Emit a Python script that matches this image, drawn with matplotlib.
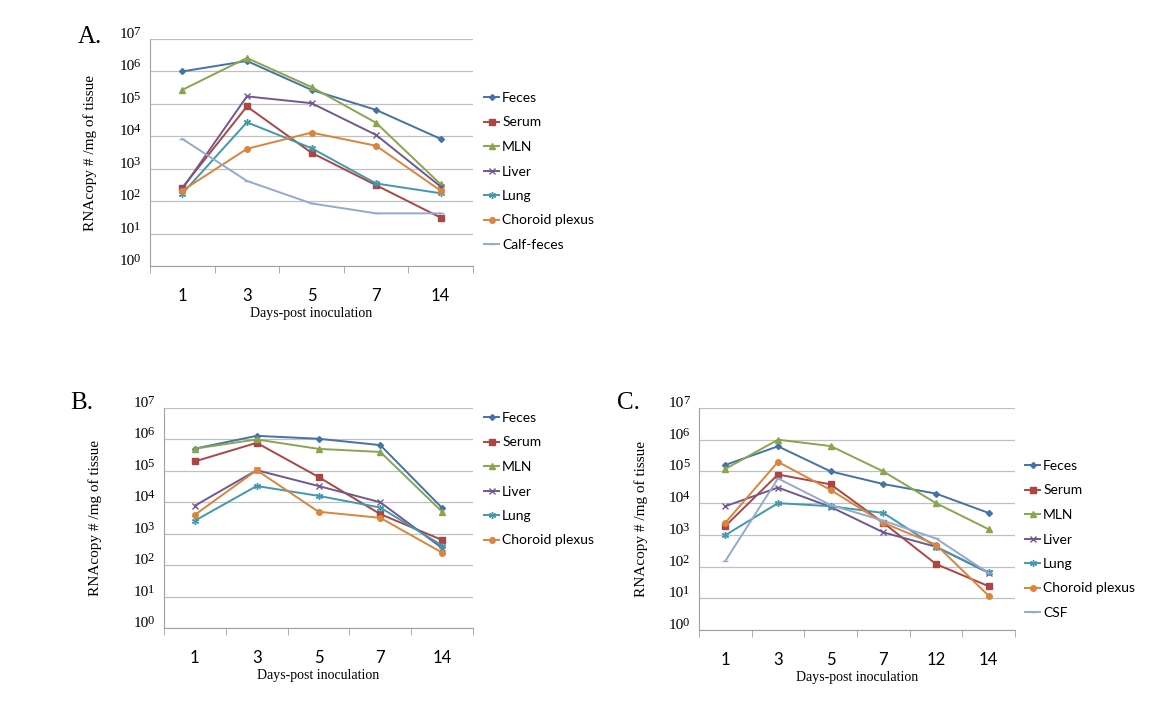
import matplotlib
matplotlib.use("Agg")
import matplotlib.pyplot as plt
from matplotlib.ticker import FixedLocator, NullFormatter

W, H = 1176, 712

# panel A
daysA = ['1', '3', '5', '7', '14']
fecesA = [1.0e6, 2.1e6, 2.7e5, 6.5e4, 8.3e3]
serumA = [260, 8.3e4, 3.1e3, 310, 31]
mlnA = [2.7e5, 2.6e6, 3.3e5, 2.6e4, 330]
liverA = [240, 1.7e5, 1.05e5, 1.1e4, 280]
lungA = [170, 2.7e4, 4.3e3, 350, 175]
choroidA = [210, 4.1e3, 1.3e4, 5.1e3, 210]
calfA = [8.3e3, 420, 85, 42, 42]

# panel B
daysB = ['1', '3', '5', '7', '14']
fecesB = [5.1e5, 1.3e6, 1.05e6, 6.6e5, 6.6e3]
serumB = [2.0e5, 7.8e5, 6.4e4, 4.2e3, 630]
mlnB = [5.1e5, 1.0e6, 5.0e5, 4.0e5, 5.0e3]
liverB = [7.8e3, 1.05e5, 3.3e4, 1.0e4, 350]
lungB = [2.6e3, 3.3e4, 1.6e4, 6.8e3, 420]
choroidB = [4.0e3, 1.05e5, 5.0e3, 3.2e3, 250]

# panel C
daysC = ['1', '3', '5', '7', '12', '14']
fecesC = [1.6e5, 6.2e5, 1.0e5, 4.0e4, 2.0e4, 4.9e3]
serumC = [1.9e3, 8.0e4, 3.9e4, 2.4e3, 120, 24]
mlnC = [1.2e5, 1.0e6, 6.3e5, 1.0e5, 1.0e4, 1.5e3]
liverC = [8.0e3, 3.1e4, 7.6e3, 1.2e3, 420, 63]
lungC = [980, 1.0e4, 8.0e3, 4.9e3, 420, 66]
choroidC = [2.4e3, 2.0e5, 2.6e4, 2.4e3, 490, 12]
csfC = [150, 6.0e4, 8.7e3, 2.8e3, 770, 62]

decades = list(range(8))

styles = {
    'Feces': ('#4572A7', 'D', 3),
    'Serum': ('#AA4643', 's', 4),
    'MLN': ('#89A54E', '^', 4.5),
    'Liver': ('#71588F', 'x', 4),
    'Lung': ('#4198AF', (6, 2, 0), 5),
    'Choroid plexus': ('#DB843D', 'o', 4),
    'Calf-feces': ('#93A9CF', '_', 5),
    'CSF': ('#93A9CF', '_', 5),
}


def box(l, t, r, b):
    return [l / W, 1 - b / H, (r - l) / W, (b - t) / H]


def draw(ax, days, series, ylab_x):
    x = range(len(days))
    for name, vals in series:
        c, m, ms = styles[name]
        ax.plot(x, vals, color=c, marker=m, markersize=ms, lw=1.4,
                markeredgewidth=1.0, label=name)
    ax.set_yscale('log')
    ax.set_ylim(1, 1e7)
    ax.set_xlim(-0.5, len(days) - 0.5)
    ax.yaxis.set_major_locator(FixedLocator([10.0 ** k for k in decades]))
    ax.yaxis.set_minor_locator(FixedLocator([]))
    ax.yaxis.set_major_formatter(NullFormatter())
    ax.tick_params(axis='y', length=0)
    # "10" with a slightly raised exponent, like the original labels
    for k in decades:
        ax.annotate('10', xy=(0, 10.0 ** k), xycoords=('axes fraction', 'data'),
                    xytext=(-15.5, 1), textcoords='offset pixels', ha='right',
                    va='baseline', fontsize=11, family='Liberation Serif')
        ax.annotate(str(k), xy=(0, 10.0 ** k), xycoords=('axes fraction', 'data'),
                    xytext=(-10, 4), textcoords='offset pixels', ha='right',
                    va='baseline', fontsize=9, family='Liberation Serif')
    ax.set_xticks(list(x))
    ax.set_xticklabels(days, family='Lato', fontsize=12)
    ax.set_xticks([i - 0.5 for i in range(len(days) + 1)], minor=True)
    ax.tick_params(axis='x', which='major', length=0, pad=16)
    ax.tick_params(axis='x', which='minor', length=5, color='#a0a0a0', direction='out')
    ax.grid(axis='y', color='#c0c0c0', lw=0.9)
    ax.set_axisbelow(True)
    for s in ['top', 'right']:
        ax.spines[s].set_visible(False)
    for s in ['left', 'bottom']:
        ax.spines[s].set_color('#a0a0a0')
    ax.set_xlabel('Days-post inoculation', family='Liberation Serif', fontsize=10, labelpad=2)
    ax.set_ylabel('RNAcopy # /mg of tissue', family='Liberation Serif', fontsize=11)
    l, b, w, h = ax.get_position().bounds
    ax.yaxis.set_label_coords((ylab_x / W - l) / w, 0.5)


def legend(fig, ax, x, y):
    fig.legend(*ax.get_legend_handles_labels(), loc='upper left',
               bbox_to_anchor=(x / W, 1 - y / H), frameon=False,
               prop={'family': 'Lato', 'size': 10}, handlelength=1.1,
               handletextpad=0.2, labelspacing=0.9, borderaxespad=0, borderpad=0)


fig = plt.figure(figsize=(11.76, 7.12), dpi=100)

axA = fig.add_axes(box(150, 39, 473, 266))
draw(axA, daysA, [('Feces', fecesA), ('Serum', serumA), ('MLN', mlnA), ('Liver', liverA),
                  ('Lung', lungA), ('Choroid plexus', choroidA), ('Calf-feces', calfA)], 97)
legend(fig, axA, 484, 92)

axB = fig.add_axes(box(164, 408, 473, 628))
draw(axB, daysB, [('Feces', fecesB), ('Serum', serumB), ('MLN', mlnB), ('Liver', liverB),
                  ('Lung', lungB), ('Choroid plexus', choroidB)], 102)
legend(fig, axB, 484, 412)

axC = fig.add_axes(box(699, 408, 1015, 630))
draw(axC, daysC, [('Feces', fecesC), ('Serum', serumC), ('MLN', mlnC), ('Liver', liverC),
                  ('Lung', lungC), ('Choroid plexus', choroidC), ('CSF', csfC)], 648)
legend(fig, axC, 1025, 460)

for lab, px, py in [('A.', 78, 37), ('B.', 70, 403), ('C.', 617, 403)]:
    fig.text(px / W, 1 - py / H, lab, family='Liberation Serif', fontsize=18,
             ha='left', va='center')

fig.savefig('out.png', dpi=100)
